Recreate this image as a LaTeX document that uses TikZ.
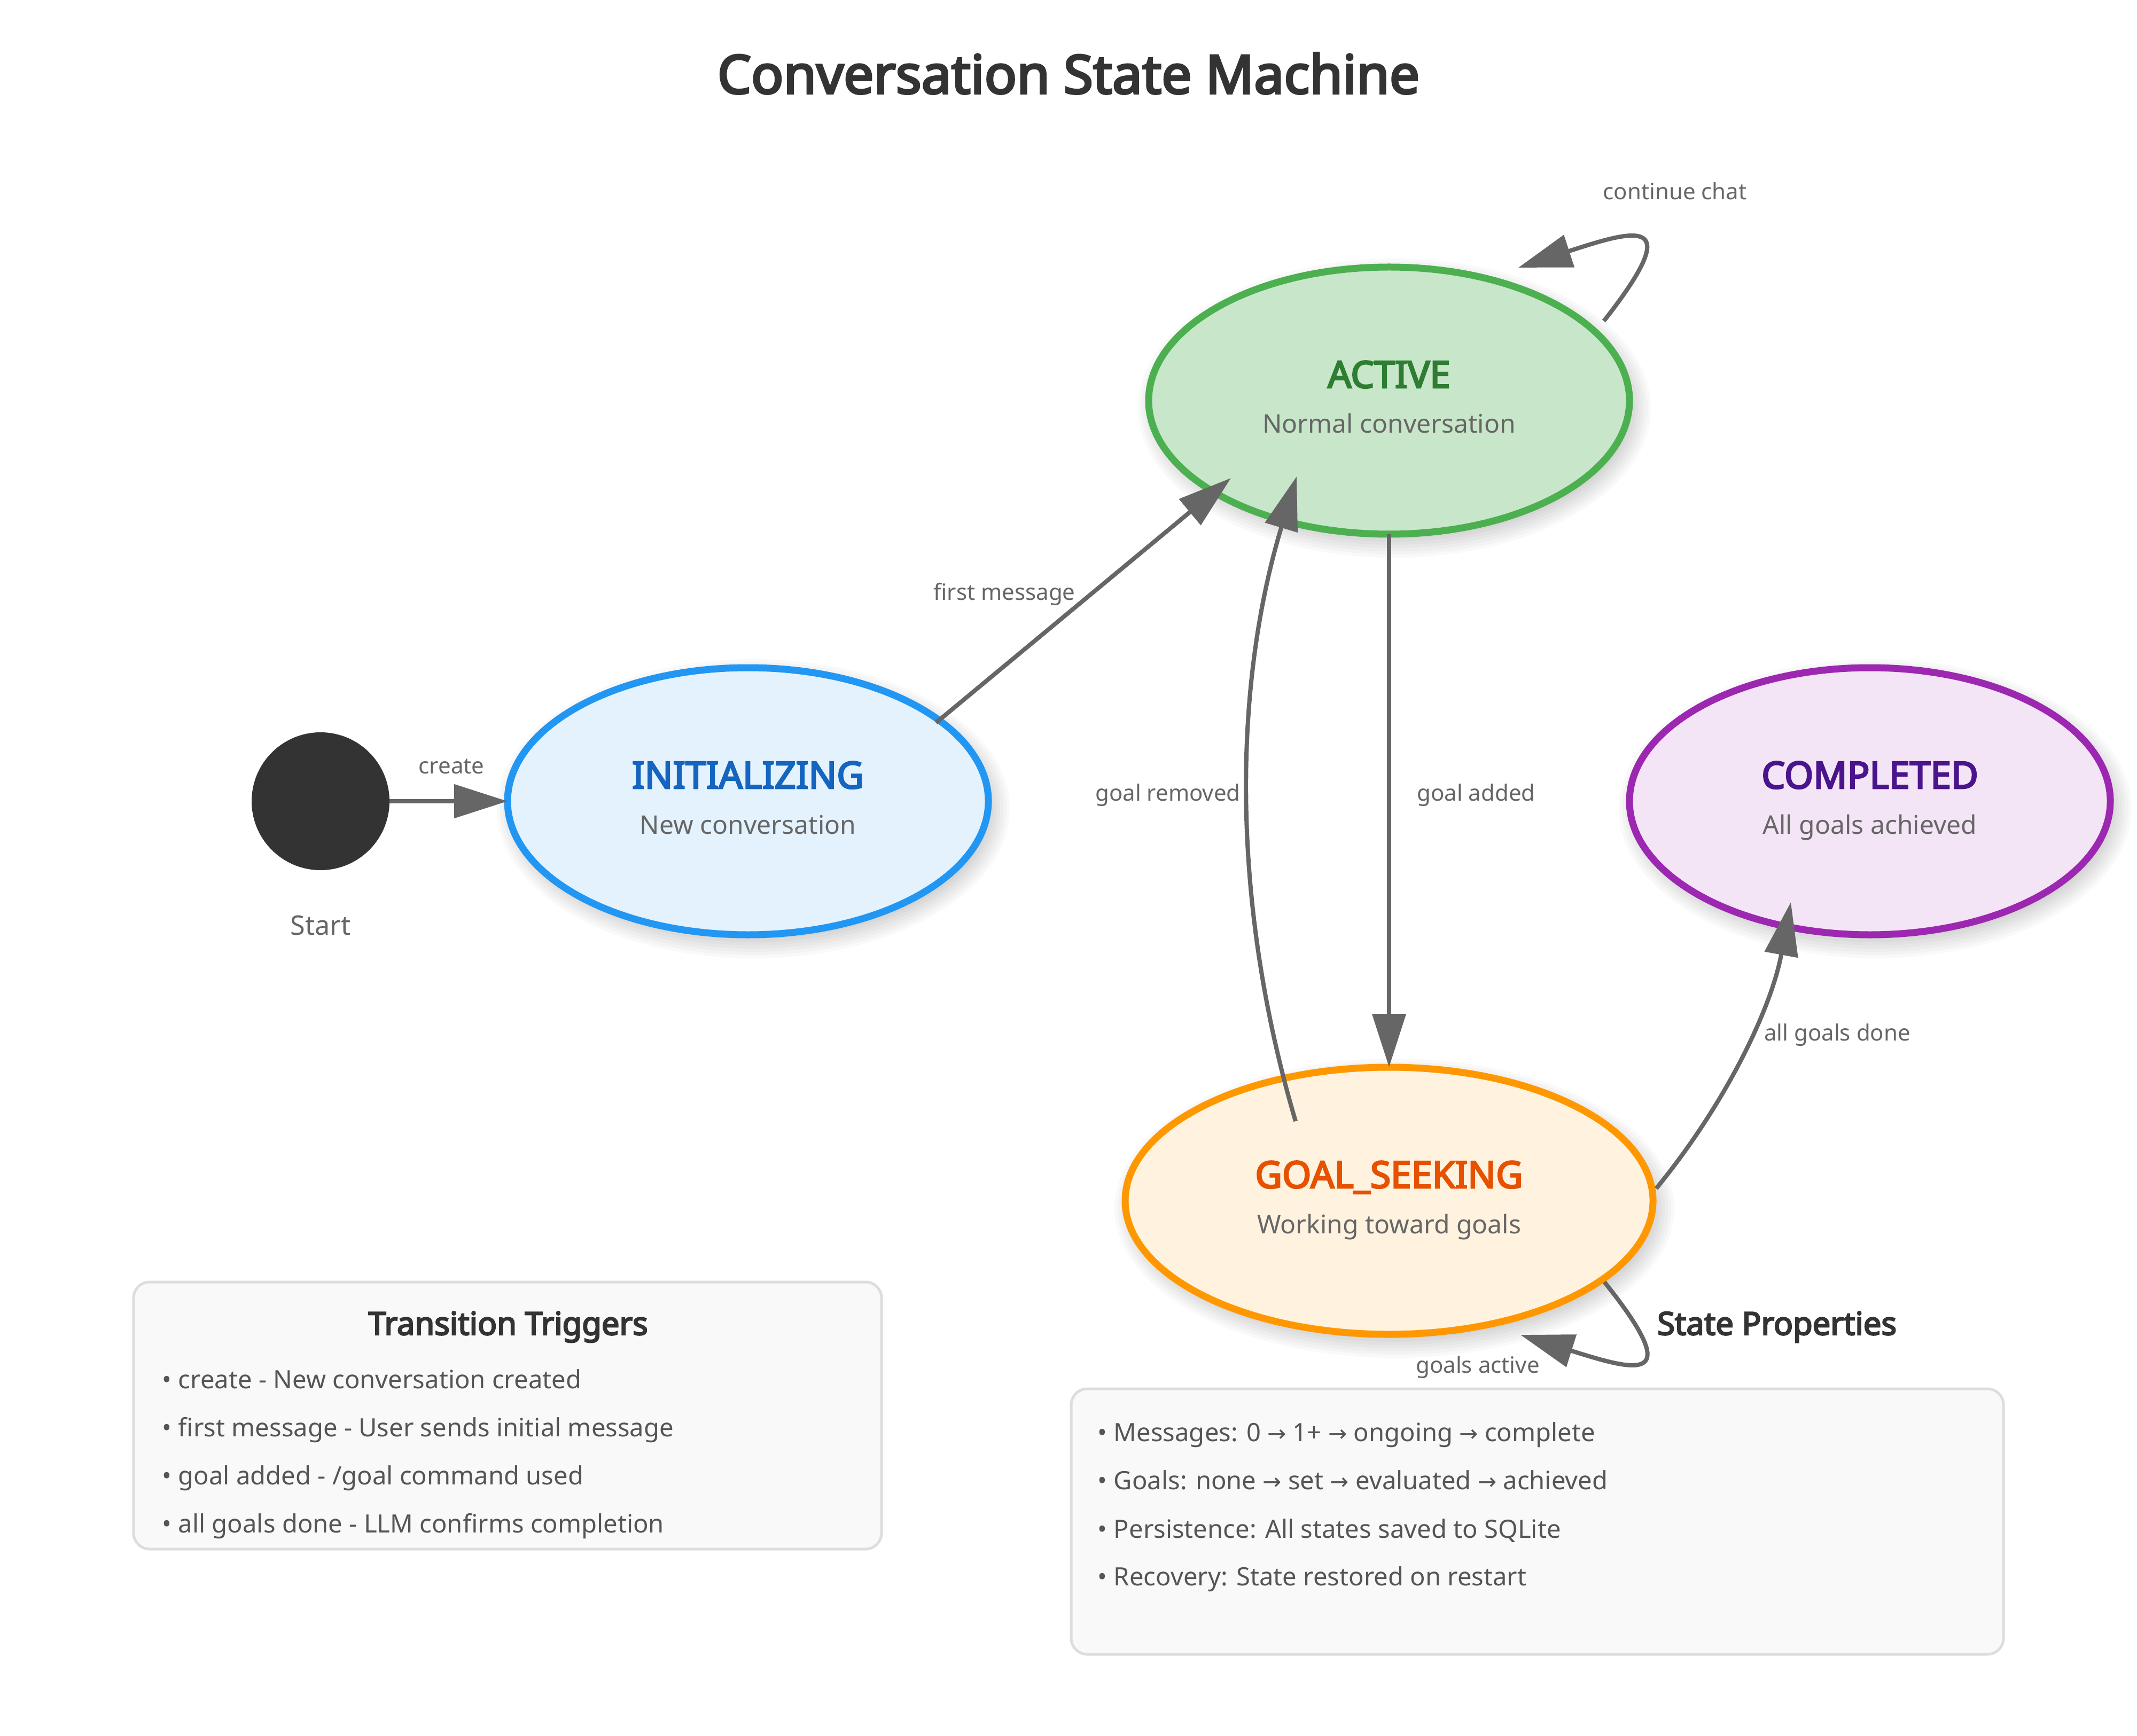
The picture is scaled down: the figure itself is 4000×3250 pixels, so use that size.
\documentclass[tikz,border=0pt]{standalone}
\usepackage{fontspec}
\setmainfont{Noto Sans}[BoldFont={Noto Sans}, BoldFeatures={FakeBold=4}]
\newfontfamily\arrowfont{DejaVu Sans}
\usetikzlibrary{arrows.meta,shapes.geometric,calc}
\definecolor{initS}{HTML}{2196F3}\definecolor{initF}{HTML}{E3F2FD}\definecolor{initT}{HTML}{1565C0}
\definecolor{actS}{HTML}{4CAF50}\definecolor{actF}{HTML}{C8E6C9}\definecolor{actT}{HTML}{2E7D32}
\definecolor{goalS}{HTML}{FF9800}\definecolor{goalF}{HTML}{FFF3E0}\definecolor{goalT}{HTML}{E65100}
\definecolor{doneS}{HTML}{9C27B0}\definecolor{doneF}{HTML}{F3E5F5}\definecolor{doneT}{HTML}{4A148C}
\definecolor{cdark}{HTML}{333333}\definecolor{cgray}{HTML}{666666}\definecolor{ctext}{HTML}{555555}
\definecolor{cbord}{HTML}{DDDDDD}\definecolor{cboxf}{HTML}{F9F9F9}
\newcommand\myarrow{{\arrowfont\fontsize{10.5}{12}\selectfont →}}
\newcommand\stshadow[4]{\foreach \k in {0,...,9}{\fill[black,opacity=0.022] ({#1+10},{#2+14}) ellipse [x radius={#3+30-6*\k}, y radius={#4+30-6*\k}];}}
\begin{document}
\begin{tikzpicture}[x=0.25pt,y=-0.25pt,
  state/.style={ellipse, line width=3.25pt, inner sep=0pt, outer sep=0pt, minimum width=225pt, minimum height=125pt},
  sname/.style={anchor=base, inner sep=0pt, font=\bfseries\fontsize{17.4}{20}\selectfont},
  ssub/.style={anchor=base, inner sep=0pt, text=cgray, font=\fontsize{12}{14}\selectfont},
  edge/.style={draw=cgray, line width=2pt, -{Triangle[length=25pt,width=15.5pt]}},
  elabel/.style={anchor=base, inner sep=0pt, text=cgray, font=\fontsize{10.5}{12}\selectfont},
  infobox/.style={rectangle, rounded corners=7.5pt, draw=cbord, fill=cboxf, line width=1.25pt, inner sep=0pt, outer sep=0pt},
  btitle/.style={anchor=base, inner sep=0pt, text=cdark, font=\bfseries\fontsize{14.9}{17}\selectfont},
  bline/.style={anchor=base west, inner sep=0pt, text=ctext, font=\fontsize{11.8}{14}\selectfont}]
\useasboundingbox (0,0) rectangle (4000,3250);
\fill[white] (0,0) rectangle (4000,3250);

% title
\node[anchor=base, inner sep=0pt, text=cdark, font=\bfseries\fontsize{25}{30}\selectfont] (title) at (2000,175) {Conversation State Machine};

% shadows
\stshadow{1400}{1500}{450}{250}
\stshadow{2600}{750}{450}{250}
\stshadow{2600}{2248}{494}{250}
\stshadow{3500}{1500}{450}{250}

% start
\node[circle, fill=cdark, minimum size=64.5pt, inner sep=0pt, outer sep=0pt] (start) at (600,1500) {};
\node[anchor=base, inner sep=0pt, text=cgray, font=\fontsize{12.6}{15}\selectfont] (startlbl) at (600,1750) {Start};

% states
\node[state, draw=initS, fill=initF] (init) at (1400,1500) {};
\node[state, draw=actS, fill=actF] (active) at (2600,750) {};
\node[state, draw=goalS, fill=goalF, minimum width=247pt] (goal) at (2600,2248) {};
\node[state, draw=doneS, fill=doneF] (done) at (3500,1500) {};

\node[sname, text=initT] (init-n) at ($(init)+(0,-24)$) {INITIALIZING};
\node[ssub] (init-d) at ($(init)+(0,61)$) {New conversation};
\node[sname, text=actT] (active-n) at ($(active)+(0,-24)$) {ACTIVE};
\node[ssub] (active-d) at ($(active)+(0,61)$) {Normal conversation};
\node[sname, text=goalT] (goal-n) at ($(goal)+(0,-24)$) {GOAL\_SEEKING};
\node[ssub] (goal-d) at ($(goal)+(0,61)$) {Working toward goals};
\node[sname, text=doneT] (done-n) at ($(done)+(0,-24)$) {COMPLETED};
\node[ssub] (done-d) at ($(done)+(0,61)$) {All goals achieved};

% edges
\draw[edge] (start) -- (init);
\draw[edge] ($(init)+(352,-147)$) -- ($(active)+(-296,145)$);
\draw[edge] (active.south) -- (goal.north);
\draw[edge] ($(goal)+(-175,-149)$) .. controls ($(active)!0.5!(goal)+(-294,197)$) and ($(active)!0.5!(goal)+(-294,-205)$) .. ($(active)+(-173,142)$);
\draw[edge] ($(goal)+(500,-23)$) .. controls ($(goal)+(632,-184)$) and ($(done)+(-184,386)$) .. ($(done)+(-148,189)$);
\draw[edge] ($(active)+(402,-149)$) .. controls ($(active)+(560,-350)$) and ($(active)+(460,-320)$) .. ($(active)+(242,-249)$);
\draw[edge] ($(goal)+(403,152)$) .. controls ($(goal)+(560,348)$) and ($(goal)+(460,318)$) .. ($(goal)+(246,251)$);

% edge labels
\node[elabel] (l-create) at (845,1448) {create};
\node[elabel] (l-first) at (1880,1124) {first message};
\node[elabel] (l-removed) at (2186,1499) {goal removed};
\node[elabel] (l-added) at (2763,1499) {goal added};
\node[elabel] (l-done) at (3439,1948) {all goals done};
\node[elabel] (l-cont) at (3135,374) {continue chat};
\node[elabel] (l-gact) at (2766,2570) {goals active};

% transition triggers box
\node[infobox, minimum width=350pt, minimum height=125pt] (trig) at (950,2650) {};
\node[btitle] (trig-t) at (951,2499) {Transition Triggers};
\node[bline] (trig-1) at (303,2599) {• create - New conversation created};
\node[bline] (trig-2) at (303,2689) {• first message - User sends initial message};
\node[bline] (trig-3) at (303,2779) {• goal added - /goal command used};
\node[bline] (trig-4) at (303,2869) {• all goals done - LLM confirms completion};

% state properties box
\node[infobox, minimum width=436.25pt, minimum height=124.25pt] (props) at (2877.5,2848.5) {};
\node[btitle] (props-t) at (3326,2499) {State Properties};
\node[bline] (props-1) at (2054,2698) {• Messages: 0 \myarrow{} 1+ \myarrow{} ongoing \myarrow{} complete};
\node[bline] (props-2) at (2054,2788) {• Goals: none \myarrow{} set \myarrow{} evaluated \myarrow{} achieved};
\node[bline] (props-3) at (2054,2879) {• Persistence: All states saved to SQLite};
\node[bline] (props-4) at (2054,2968) {• Recovery: State restored on restart};
\end{tikzpicture}
\end{document}
